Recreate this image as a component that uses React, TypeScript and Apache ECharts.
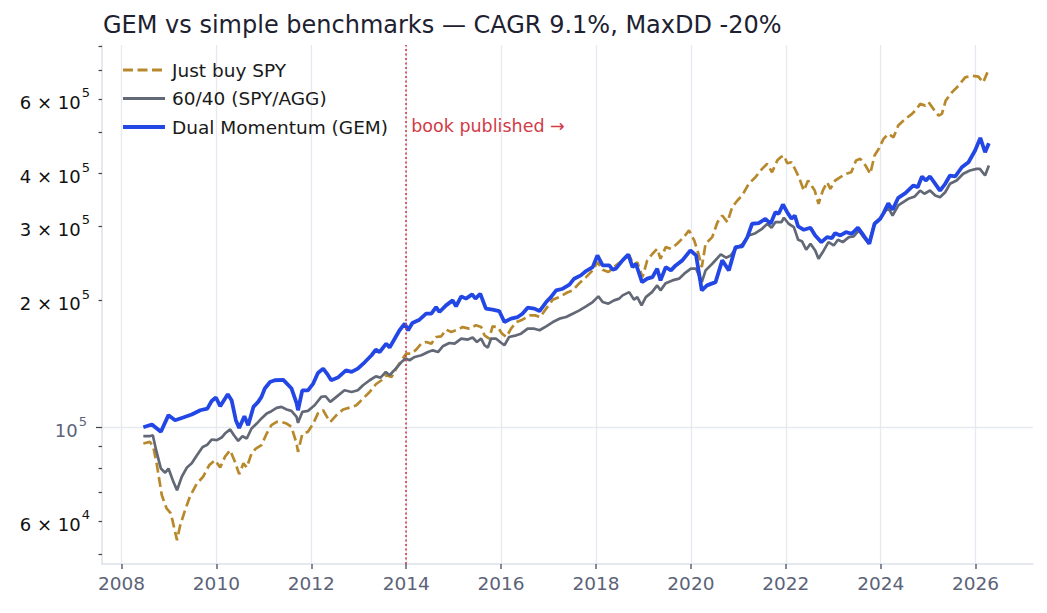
import React, { useEffect, useRef } from "react";
import * as echarts from "echarts";

// ---- chart text -----------------------------------------------------------
const TITLE = "GEM vs simple benchmarks — CAGR 9.1%, MaxDD -20%";
const SPY_NAME = "Just buy SPY";
const BAL_NAME = "60/40 (SPY/AGG)";
const GEM_NAME = "Dual Momentum (GEM)";
const BOOK_LABEL = "book published →";
const BOOK_YEAR = 2014;

// ---- axis ticks -------------------------------------------------------------
const YEAR_TICKS = [2008, 2010, 2012, 2014, 2016, 2018, 2020, 2022, 2024, 2026];
const Y_MAJOR_TICKS = [100000];
const Y_MINOR_TICKS = [50000, 60000, 70000, 80000, 90000, 200000, 300000, 400000, 500000, 600000, 700000, 800000];
const Y_MINOR_LABELS = [60000, 200000, 300000, 400000, 600000];

// ---- portfolio value, [decimal year, USD] -----------------------------------
const spyValues: [number, number][] = [
  [2008.46, 91500], [2008.60, 92300], [2008.67, 89800], [2008.74, 82100], [2008.85, 69000],
  [2008.95, 64200], [2009.04, 62500], [2009.17, 54000], [2009.23, 58100], [2009.34, 63600],
  [2009.44, 68400], [2009.59, 73600], [2009.72, 76300], [2009.85, 81300], [2009.97, 83500],
  [2010.08, 80300], [2010.18, 85100], [2010.29, 88200], [2010.39, 82800], [2010.48, 77400],
  [2010.57, 82100], [2010.64, 80300], [2010.74, 86600], [2010.83, 89000], [2010.95, 90700],
  [2011.06, 96600], [2011.16, 101100], [2011.27, 102900], [2011.37, 102900], [2011.48, 102000],
  [2011.58, 100200], [2011.69, 91500], [2011.72, 87400], [2011.81, 96300], [2011.93, 97500],
  [2012.04, 102000], [2012.14, 107800], [2012.25, 109700], [2012.33, 105800], [2012.40, 102900],
  [2012.53, 106800], [2012.67, 110100], [2012.81, 111300], [2012.95, 112700], [2013.09, 116900],
  [2013.23, 121200], [2013.36, 126400], [2013.48, 129200], [2013.58, 132800], [2013.69, 131500],
  [2013.79, 137700], [2013.90, 144100], [2014.00, 149400], [2014.11, 149400], [2014.21, 152700],
  [2014.32, 157800], [2014.42, 159200], [2014.53, 157800], [2014.63, 163600], [2014.74, 164200],
  [2014.84, 170300], [2014.95, 168100], [2015.05, 169700], [2015.19, 172700], [2015.33, 171200],
  [2015.47, 174400], [2015.58, 172700], [2015.65, 165100], [2015.75, 162200], [2015.82, 173400],
  [2015.93, 172700], [2016.02, 166600], [2016.11, 163600], [2016.21, 171200], [2016.32, 177500],
  [2016.45, 179800], [2016.60, 184100], [2016.72, 184100], [2016.82, 182400], [2016.95, 191000],
  [2017.09, 200600], [2017.23, 203400], [2017.37, 207900], [2017.51, 211000], [2017.65, 219500],
  [2017.79, 226800], [2017.93, 235300], [2018.03, 246200], [2018.14, 236200], [2018.26, 233100],
  [2018.42, 241800], [2018.56, 248500], [2018.70, 255300], [2018.80, 241800], [2018.87, 246200],
  [2018.98, 226800], [2019.08, 248500], [2019.19, 257700], [2019.29, 264800], [2019.36, 250800],
  [2019.47, 267100], [2019.58, 264800], [2019.71, 272200], [2019.85, 282100], [2019.96, 292600],
  [2020.07, 277100], [2020.16, 257700], [2020.23, 239500], [2020.31, 272200], [2020.45, 282100],
  [2020.56, 306100], [2020.66, 317500], [2020.77, 306100], [2020.87, 332200], [2020.98, 344600],
  [2021.08, 354100], [2021.22, 377400], [2021.36, 391300], [2021.50, 409500], [2021.61, 420900],
  [2021.71, 402000], [2021.82, 428500], [2021.89, 436300], [2021.96, 440300], [2022.03, 422200],
  [2022.12, 424600], [2022.21, 405800], [2022.29, 387800], [2022.38, 363800], [2022.47, 384300],
  [2022.54, 374000], [2022.61, 363800], [2022.69, 338400], [2022.78, 363800], [2022.87, 380700],
  [2022.94, 367300], [2023.04, 384300], [2023.15, 391300], [2023.27, 398600], [2023.38, 402000],
  [2023.48, 428500], [2023.57, 432500], [2023.68, 417000], [2023.78, 398600], [2023.87, 440300],
  [2023.96, 456800], [2024.06, 482300], [2024.16, 495600], [2024.27, 486500], [2024.37, 518600],
  [2024.52, 537900], [2024.66, 552700], [2024.76, 568000], [2024.83, 583700], [2024.94, 578300],
  [2025.01, 588800], [2025.11, 568000], [2025.22, 547600], [2025.29, 552700], [2025.37, 594200],
  [2025.50, 621700], [2025.64, 644900], [2025.78, 674700], [2025.92, 681000], [2026.06, 677300],
  [2026.16, 656600], [2026.25, 693400],
];

const balancedValues: [number, number][] = [
  [2008.46, 95200], [2008.59, 95200], [2008.66, 95700], [2008.73, 88200], [2008.83, 79800],
  [2008.92, 78000], [2008.99, 79800], [2009.08, 74900], [2009.17, 70900], [2009.27, 76300],
  [2009.38, 80300], [2009.48, 82100], [2009.59, 85800], [2009.71, 89800], [2009.80, 90700],
  [2009.90, 93500], [2010.01, 93200], [2010.11, 94500], [2010.18, 96600], [2010.29, 98800],
  [2010.37, 95700], [2010.46, 92800], [2010.55, 95200], [2010.64, 94000], [2010.74, 99300],
  [2010.85, 102000], [2010.95, 104900], [2011.06, 107800], [2011.16, 109100], [2011.27, 111100],
  [2011.37, 111700], [2011.48, 110100], [2011.58, 109300], [2011.69, 105800], [2011.72, 102400],
  [2011.81, 108700], [2011.93, 109300], [2012.07, 112700], [2012.21, 118000], [2012.30, 118400],
  [2012.40, 114800], [2012.53, 118000], [2012.70, 122300], [2012.85, 121200], [2012.98, 122300],
  [2013.09, 125700], [2013.23, 129200], [2013.36, 132000], [2013.46, 131100], [2013.57, 135200],
  [2013.65, 132800], [2013.78, 137700], [2013.90, 142700], [2013.99, 145400], [2014.07, 144100],
  [2014.18, 146700], [2014.32, 148100], [2014.46, 150700], [2014.56, 152100], [2014.67, 150700],
  [2014.77, 155500], [2014.91, 158300], [2015.02, 157800], [2015.16, 162200], [2015.30, 161300],
  [2015.40, 163100], [2015.49, 159200], [2015.58, 162200], [2015.65, 156400], [2015.72, 154400],
  [2015.79, 162200], [2015.89, 162200], [2015.98, 159200], [2016.07, 156400], [2016.17, 163600],
  [2016.32, 165100], [2016.42, 166600], [2016.56, 171200], [2016.70, 171200], [2016.81, 169700],
  [2016.95, 173400], [2017.09, 177500], [2017.23, 180800], [2017.37, 182400], [2017.51, 185800],
  [2017.65, 189200], [2017.79, 193400], [2017.93, 198000], [2018.05, 204200], [2018.14, 198000],
  [2018.26, 196200], [2018.38, 199800], [2018.49, 201700], [2018.56, 205300], [2018.70, 209000],
  [2018.80, 200600], [2018.87, 203400], [2018.96, 194400], [2019.05, 203400], [2019.18, 209000],
  [2019.29, 216800], [2019.36, 211000], [2019.47, 219500], [2019.61, 222800], [2019.75, 224900],
  [2019.86, 231100], [2020.00, 237500], [2020.11, 237500], [2020.23, 220700], [2020.31, 235300],
  [2020.45, 244000], [2020.63, 256700], [2020.74, 252200], [2020.84, 255300], [2020.94, 264800],
  [2021.08, 271100], [2021.22, 284700], [2021.36, 288300], [2021.50, 295300], [2021.61, 303500],
  [2021.70, 297000], [2021.78, 306100], [2021.91, 306100], [2021.96, 313600], [2022.06, 303500],
  [2022.17, 297900], [2022.26, 278200], [2022.34, 276000], [2022.43, 263400], [2022.52, 272200],
  [2022.62, 262400], [2022.69, 250800], [2022.80, 262400], [2022.90, 274500], [2023.01, 269600],
  [2023.10, 278200], [2023.20, 274500], [2023.33, 282100], [2023.43, 283200], [2023.54, 292600],
  [2023.64, 282100], [2023.75, 272200], [2023.87, 303500], [2023.99, 311900], [2024.08, 323300],
  [2024.16, 331100], [2024.25, 317500], [2024.37, 335300], [2024.58, 347800], [2024.72, 352200],
  [2024.83, 363800], [2024.92, 357400], [2025.04, 363800], [2025.15, 354100], [2025.25, 350800],
  [2025.36, 360500], [2025.46, 377400], [2025.60, 384300], [2025.74, 398600], [2025.88, 405800],
  [2026.02, 409500], [2026.09, 409500], [2026.20, 394900], [2026.28, 417000],
];

const gemValues: [number, number][] = [
  [2008.46, 100000], [2008.64, 101500], [2008.83, 97500], [2008.99, 106800], [2009.13, 103900],
  [2009.30, 105400], [2009.48, 107200], [2009.66, 109700], [2009.81, 110700], [2009.90, 115400],
  [2009.99, 117600], [2010.08, 112100], [2010.24, 119700], [2010.32, 115900], [2010.41, 103900],
  [2010.48, 99600], [2010.59, 106200], [2010.67, 101100], [2010.78, 111700], [2010.88, 114800],
  [2010.95, 118000], [2011.02, 123500], [2011.13, 128000], [2011.23, 129200], [2011.41, 129500],
  [2011.58, 123700], [2011.69, 114000], [2011.72, 109700], [2011.81, 122300], [2011.93, 122300],
  [2012.04, 126900], [2012.14, 134400], [2012.25, 137700], [2012.33, 134000], [2012.42, 129200],
  [2012.56, 131100], [2012.73, 136400], [2012.85, 135200], [2012.98, 137700], [2013.13, 142700],
  [2013.27, 148100], [2013.36, 152700], [2013.44, 150700], [2013.58, 157800], [2013.65, 154400],
  [2013.76, 162200], [2013.86, 169700], [2013.97, 176000], [2014.04, 169700], [2014.13, 176600],
  [2014.28, 179800], [2014.42, 185800], [2014.53, 185800], [2014.63, 192600], [2014.70, 187500],
  [2014.84, 194400], [2014.98, 199800], [2015.05, 193400], [2015.16, 204200], [2015.26, 201700],
  [2015.39, 206400], [2015.46, 201700], [2015.56, 207200], [2015.68, 191000], [2015.82, 189900],
  [2015.96, 188500], [2016.07, 177500], [2016.21, 180800], [2016.35, 182400], [2016.45, 185800],
  [2016.56, 192000], [2016.70, 191000], [2016.81, 188500], [2016.95, 198000], [2017.05, 203400],
  [2017.16, 211000], [2017.30, 212900], [2017.44, 217700], [2017.54, 224900], [2017.68, 229000],
  [2017.79, 234400], [2017.93, 239500], [2018.03, 255300], [2018.14, 241800], [2018.28, 241800],
  [2018.35, 236200], [2018.42, 237500], [2018.56, 248500], [2018.68, 256700], [2018.77, 239500],
  [2018.84, 244000], [2018.97, 220700], [2019.08, 224900], [2019.19, 226800], [2019.29, 237500],
  [2019.36, 222800], [2019.47, 239500], [2019.58, 235300], [2019.68, 241800], [2019.82, 248500],
  [2019.99, 262400], [2020.11, 255300], [2020.23, 211000], [2020.34, 216800], [2020.52, 220700],
  [2020.66, 248500], [2020.80, 235300], [2020.94, 267100], [2021.08, 268200], [2021.19, 282100],
  [2021.29, 303500], [2021.43, 304500], [2021.57, 311900], [2021.68, 303500], [2021.78, 323300],
  [2021.85, 320500], [2021.94, 337200], [2022.03, 323300], [2022.12, 311900], [2022.19, 317500],
  [2022.26, 299100], [2022.38, 293700], [2022.52, 297000], [2022.62, 284700], [2022.75, 274500],
  [2022.87, 282100], [2022.97, 280600], [2023.04, 288300], [2023.15, 284700], [2023.27, 289900],
  [2023.39, 287400], [2023.52, 297000], [2023.64, 284700], [2023.76, 272200], [2023.87, 303500],
  [2023.99, 311900], [2024.06, 321600], [2024.16, 339500], [2024.25, 327600], [2024.37, 349700],
  [2024.52, 358600], [2024.69, 374000], [2024.78, 370500], [2024.87, 392800], [2024.95, 384300],
  [2025.04, 392800], [2025.15, 377400], [2025.25, 363800], [2025.36, 377400], [2025.46, 394900],
  [2025.57, 392800], [2025.71, 413100], [2025.85, 424600], [2025.99, 452600], [2026.10, 485000],
  [2026.20, 448400], [2026.28, 470900],
];

// ---- styling ----------------------------------------------------------------
const FONT = "DejaVu Sans";
const SLATE = "#5b6378";
const SPINE = "#dde1e8";
const GRID_LINE = "#e6e9f0";
const SPY_COLOR = "#b8892c";
const BAL_COLOR = "#626876";
const GEM_COLOR = "#2347e4";
const BOOK_COLOR = "#d13b46";
const BOOK_LABEL_AT = 517000;

// "6 × 10^5" style labels for the log axis
function sciLabel(v: number): string {
  const e = Math.floor(Math.log10(v) + 1e-9);
  const m = Math.round(v / Math.pow(10, e));
  return m === 1 ? `{b|10}{s|${e}}` : `{b|${m} × 10}{s|${e}}`;
}

function sciRich(color: string) {
  return {
    b: { fontSize: 18, fontFamily: FONT, color, verticalAlign: "bottom", lineHeight: 20 },
    s: { fontSize: 13, fontFamily: FONT, color, verticalAlign: "bottom", padding: [0, 0, 12, 1] },
  };
}

function buildOption(): echarts.EChartsCoreOption {
  const yRange = { min: 47400, max: 805000 };
  return {
    animation: false,
    backgroundColor: "#ffffff",
    textStyle: { fontFamily: FONT },
    title: {
      text: TITLE,
      left: 98,
      top: 8,
      textStyle: { fontFamily: FONT, fontSize: 24, fontWeight: "normal", color: "#1d2130" },
    },
    legend: {
      orient: "vertical",
      left: 116,
      top: 54,
      itemWidth: 42,
      itemHeight: 14,
      itemGap: 6.5,
      selectedMode: false,
      itemStyle: { opacity: 0 },
      textStyle: { fontFamily: FONT, fontSize: 18.5, color: "#1a1a1a", lineHeight: 22, padding: [0, 0, 0, 2] },
      data: [
        { name: SPY_NAME, lineStyle: { width: 2.8 } },
        { name: BAL_NAME, lineStyle: { width: 2.8 } },
        { name: GEM_NAME, lineStyle: { width: 4 } },
      ],
    },
    grid: { left: 102, right: 14, top: 45, bottom: 49, containLabel: false, outerBoundsMode: "none" },
    xAxis: {
      type: "value",
      min: 2007.589,
      max: 2027.21,
      axisLine: { show: true, lineStyle: { color: SPINE, width: 1.5 } },
      axisTick: { show: true, length: 5, lineStyle: { color: SLATE, width: 1.5 }, customValues: YEAR_TICKS },
      axisLabel: {
        customValues: YEAR_TICKS,
        formatter: (v: number) => String(v),
        fontFamily: FONT,
        fontSize: 18.5,
        color: SLATE,
        margin: 10,
      },
      splitLine: { show: true, lineStyle: { color: GRID_LINE, width: 1.3 } },
    },
    yAxis: [
      {
        type: "log",
        logBase: 10,
        position: "left",
        ...yRange,
        axisLine: { show: true, lineStyle: { color: SPINE, width: 1.5 } },
        axisTick: { show: true, length: 6, lineStyle: { color: "#444", width: 1.2 }, customValues: Y_MAJOR_TICKS },
        axisLabel: {
          customValues: Y_MAJOR_TICKS,
          formatter: sciLabel,
          rich: sciRich(SLATE),
          margin: 15,
        },
        splitLine: { show: true, lineStyle: { color: GRID_LINE, width: 1.3 } },
      },
      {
        type: "log",
        logBase: 10,
        position: "left",
        offset: 0,
        ...yRange,
        axisLine: { show: false },
        axisTick: { show: true, length: 3.5, lineStyle: { color: "#444", width: 1.2 }, customValues: Y_MINOR_TICKS },
        axisLabel: {
          customValues: Y_MINOR_LABELS,
          formatter: sciLabel,
          rich: sciRich("#111111"),
          margin: 12,
        },
        splitLine: { show: false },
      },
    ],
    series: [
      {
        name: SPY_NAME,
        type: "line",
        data: spyValues,
        symbol: "none",
        lineStyle: { color: SPY_COLOR, width: 2.7, type: [10, 4.5] },
        itemStyle: { color: SPY_COLOR },
        z: 2,
      },
      {
        name: BAL_NAME,
        type: "line",
        data: balancedValues,
        symbol: "none",
        lineStyle: { color: BAL_COLOR, width: 2.7 },
        itemStyle: { color: BAL_COLOR },
        z: 3,
      },
      {
        name: GEM_NAME,
        type: "line",
        data: gemValues,
        symbol: "none",
        lineStyle: { color: GEM_COLOR, width: 3.8 },
        itemStyle: { color: GEM_COLOR },
        z: 4,
        markLine: {
          silent: true,
          symbol: ["none", "none"],
          label: { show: false },
          lineStyle: { color: BOOK_COLOR, width: 1.6, type: [2, 2.5] },
          data: [{ xAxis: BOOK_YEAR }],
        },
        markPoint: {
          silent: true,
          symbol: "circle",
          symbolSize: 0,
          label: {
            show: true,
            position: "right",
            distance: 5,
            formatter: BOOK_LABEL,
            fontFamily: FONT,
            fontSize: 17.5,
            color: BOOK_COLOR,
          },
          data: [{ coord: [BOOK_YEAR, BOOK_LABEL_AT] }],
        },
      },
    ],
  };
}

export default function App() {
  const ref = useRef<HTMLDivElement>(null);
  useEffect(() => {
    if (!ref.current) return;
    const chart = echarts.init(ref.current, undefined, { renderer: "svg" });
    chart.setOption(buildOption());
    return () => chart.dispose();
  }, []);
  return (
    <div
      ref={ref}
      style={{ position: "fixed", left: 0, top: 0, width: 1047, height: 613, background: "#fff" }}
    />
  );
}
